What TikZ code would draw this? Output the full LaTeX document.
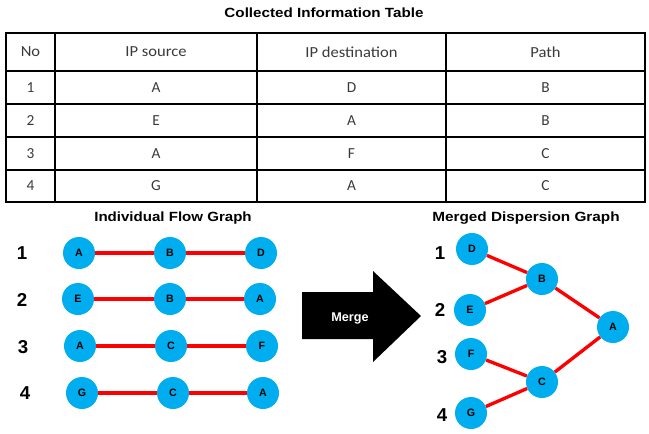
\documentclass[tikz,border=0pt]{standalone}
\usepackage{fontspec}
\setmainfont{Liberation Sans}
\newfontfamily\cellfont{Carlito}
\definecolor{nodeblue}{HTML}{00ADEF}
\definecolor{edgered}{HTML}{FF0000}
\definecolor{celltext}{HTML}{3A3A3A}
\newcommand{\stretchtxt}[2]{\scalebox{#1}[1]{#2}}
\begin{document}
\begin{tikzpicture}[x=0.75pt,y=-0.75pt,
  vtx/.style={circle,fill=nodeblue,minimum size=24pt,inner sep=0pt,font=\bfseries\fontsize{8}{9}\selectfont},
  link/.style={edgered,line width=2.5pt},
  cell/.style={font=\cellfont\fontsize{11.5}{13}\selectfont,text=celltext,inner sep=0pt},
  heading/.style={font=\bfseries\fontsize{10}{12}\selectfont},
  rowlab/.style={font=\bfseries\fontsize{14}{16}\selectfont},
  grid/.style={line width=1pt,black}]
\useasboundingbox (0,0) rectangle (649,433);
% title
\node[heading] (title) at (324,13) {\stretchtxt{1.14}{Collected Information Table}};
% table grid
\draw[grid] (6,33) rectangle (645,202);
\foreach \yy in {71,104,137,170} \draw[grid] (6,\yy) -- (645,\yy);
\foreach \xx in {55,257,446} \draw[grid] (\xx,33) -- (\xx,202);
% header
\node[cell] (hno) at (30.5,52) {\stretchtxt{1.08}{No}};
\node[cell] (hsrc) at (156,52) {\stretchtxt{1.08}{IP source}};
\node[cell] (hdst) at (351.5,52) {\stretchtxt{1.08}{IP destination}};
\node[cell] (hpath) at (545.5,52) {\stretchtxt{1.08}{Path}};
% rows
\node[cell] (r1n) at (30.5,87.5) {1};
\node[cell] (r1s) at (156,87.5) {A};
\node[cell] (r1d) at (351.5,87.5) {D};
\node[cell] (r1p) at (545.5,87.5) {B};
\node[cell] (r2n) at (30.5,120.5) {2};
\node[cell] (r2s) at (156,120.5) {E};
\node[cell] (r2d) at (351.5,120.5) {A};
\node[cell] (r2p) at (545.5,120.5) {B};
\node[cell] (r3n) at (30.5,153.5) {3};
\node[cell] (r3s) at (156,153.5) {A};
\node[cell] (r3d) at (351.5,153.5) {F};
\node[cell] (r3p) at (545.5,153.5) {C};
\node[cell] (r4n) at (30.5,186) {4};
\node[cell] (r4s) at (156,186) {G};
\node[cell] (r4d) at (351.5,186) {A};
\node[cell] (r4p) at (545.5,186) {C};
% individual flow graph
\node[heading] (ifg) at (173,218) {\stretchtxt{1.13}{Individual Flow Graph}};
\node[rowlab] (l1) at (22,253) {1};
\node[rowlab] (l2) at (22,300) {2};
\node[rowlab] (l3) at (23,347) {3};
\node[rowlab] (l4) at (25,393) {4};
\node[vtx] (a1) at (79,253) {A};
\node[vtx] (b1) at (170,253) {B};
\node[vtx] (d1) at (261,253) {D};
\node[vtx] (e2) at (78,299) {E};
\node[vtx] (b2) at (170,299) {B};
\node[vtx] (a2) at (260,299) {A};
\node[vtx] (a3) at (80,346) {A};
\node[vtx] (c3) at (171,346) {C};
\node[vtx] (f3) at (262,346) {F};
\node[vtx] (g4) at (82,393) {G};
\node[vtx] (c4) at (173,393) {C};
\node[vtx] (a4) at (263,393) {A};
\draw[link] (a1) -- (b1) -- (d1);
\draw[link] (e2) -- (b2) -- (a2);
\draw[link] (a3) -- (c3) -- (f3);
\draw[link] (g4) -- (c4) -- (a4);
% merge arrow
\fill[black] (302,292) -- (373,292) -- (373,271) -- (421,316) -- (373,362) -- (373,339) -- (302,339) -- cycle;
\node[font=\bfseries\fontsize{9.5}{11}\selectfont, text=white] (mergetxt) at (350,318) {Merge};
% merged dispersion graph
\node[heading] (mdg) at (526,218) {\stretchtxt{1.15}{Merged Dispersion Graph}};
\node[rowlab] (m1) at (440,253) {1};
\node[rowlab] (m2) at (440,310) {2};
\node[rowlab] (m3) at (442,357) {3};
\node[rowlab] (m4) at (442,415) {4};
\node[vtx] (D) at (472,249) {D};
\node[vtx] (B) at (542,279) {B};
\node[vtx] (E) at (470,310) {E};
\node[vtx] (A) at (613,327) {A};
\node[vtx] (F) at (471,354) {F};
\node[vtx] (C) at (542,382) {C};
\node[vtx] (G) at (471,413) {G};
\draw[link] (D) -- (B);
\draw[link] (E) -- (B);
\draw[link] (B) -- (A);
\draw[link] (F) -- (C);
\draw[link] (G) -- (C);
\draw[link] (C) -- (A);
\end{tikzpicture}
\end{document}
